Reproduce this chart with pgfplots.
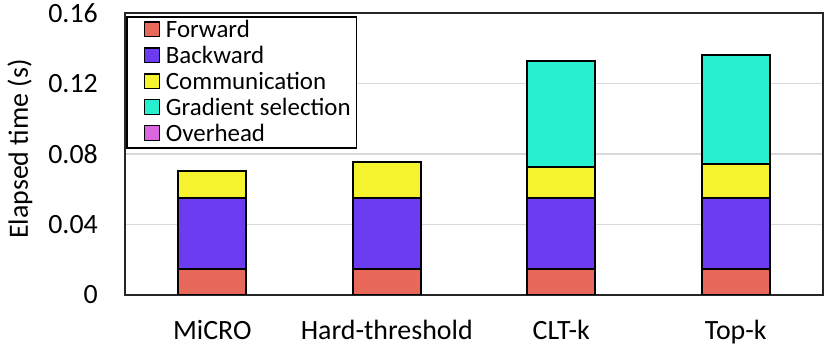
\documentclass[border=0pt]{standalone}
\usepackage{fontspec}
\setmainfont{Carlito}
\usepackage{pgfplots}
\pgfplotsset{compat=1.18}
\definecolor{cfwd}{HTML}{E8685A}
\definecolor{cbwd}{HTML}{6C3DF0}
\definecolor{ccom}{HTML}{F5F22E}
\definecolor{cgrad}{HTML}{26F0CF}
\definecolor{covh}{HTML}{DA66E0}
\begin{document}
\begin{tikzpicture}
\begin{axis}[
    ybar stacked,
    bar width=68bp,
    width=698bp, height=282bp, scale only axis,
    xmin=-0.5, xmax=3.5, ymin=0, ymax=0.16,
    xtick={0,1,2,3},
    xticklabels={MiCRO,Hard-threshold,CLT-k,Top-k},
    ytick={0,0.04,0.08,0.12,0.16},
    yticklabels={0,0.04,0.08,0.12,0.16},
    major tick length=0pt,
    ymajorgrids=true,
    grid style={color=black!15, line width=1.3bp},
    axis line style={draw=black!85, line width=1.3bp},
    tick label style={font=\fontsize{28}{30}\selectfont},
    /pgf/number format/assume math mode=true,
    yticklabel style={anchor=east, inner sep=0pt, xshift=-27bp},
    xticklabel style={anchor=base, inner sep=0pt, yshift=-44bp},
    ylabel={Elapsed time (s)},
    ylabel style={font=\fontsize{28}{30}\selectfont,
        at={([shift={(-105bp,5bp)}]axis description cs:0,0.5)}, anchor=center},
    every axis plot/.append style={draw=black, line width=2bp},
    legend image code/.code={\path (0bp,0bp); \draw[#1, draw=black, line width=1.3bp] (11bp,-6bp) rectangle (25.5bp,8.5bp);},
    legend cell align=left,
    legend style={at={(0,1)}, anchor=north west, xshift=1bp, yshift=-3bp,
        draw=black, line width=1.6bp, font=\fontsize{25}{27}\selectfont,
        nodes={inner sep=0pt, text height=18.7bp, text depth=5bp},
        row sep=2.2bp, column sep=6bp, inner xsep=6bp, inner ysep=2bp},
]
\addplot[fill=cfwd] coordinates {(0,0.015) (1,0.015) (2,0.0147) (3,0.015)};
\addplot[fill=cbwd] coordinates {(0,0.0402) (1,0.0402) (2,0.0404) (3,0.0401)};
\addplot[fill=ccom] coordinates {(0,0.0151) (1,0.0201) (2,0.0177) (3,0.0190)};
\addplot[fill=cgrad] coordinates {(0,0) (1,0) (2,0.0599) (3,0.0623)};
\addplot[fill=covh] coordinates {(0,0) (1,0) (2,0) (3,0)};
\legend{Forward,Backward,Communication,Gradient selection,Overhead}
\end{axis}
\path ([shift={(-125bp,-54bp)}]current axis.south west) rectangle ([shift={(9bp,13bp)}]current axis.north east);
\end{tikzpicture}
\end{document}
